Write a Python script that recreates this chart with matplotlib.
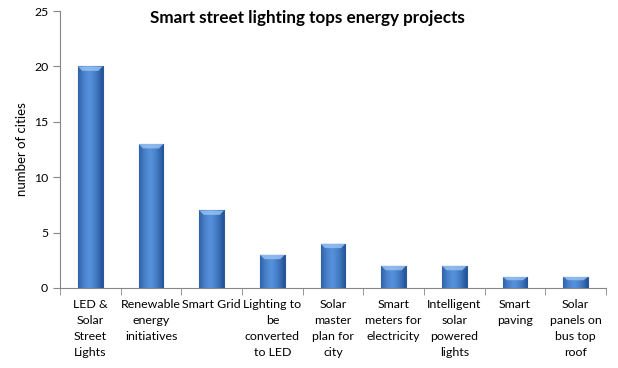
import matplotlib.pyplot as plt
import numpy as np
from matplotlib.colors import LinearSegmentedColormap

categories = ["LED &\nSolar\nStreet\nLights", "Renewable\nenergy\ninitiatives", "Smart Grid",
              "Lighting to\nbe\nconverted\nto LED", "Solar\nmaster\nplan for\ncity",
              "Smart\nmeters for\nelectricity", "Intelligent\nsolar\npowered\nlights",
              "Smart\npaving", "Solar\npanels on\nbus top\nroof"]
cities = [20, 13, 7, 3, 4, 2, 2, 1, 1]

plt.rcParams['font.family'] = ['Lato', 'DejaVu Sans']

fig = plt.figure(figsize=(6.18, 3.68), dpi=100)
ax = fig.add_axes([0.0971, 0.2174, 0.8835, 0.7527])

x = np.arange(len(cities))
bars = ax.bar(x, cities, width=0.41, color='#3b78c8', edgecolor='#2a5a9a', linewidth=0.8, zorder=2)

# horizontal shading inside each bar
grad = np.linspace(0, 1, 64)
shade = 1 - 0.55 * (2 * np.abs(grad - 0.45)) ** 1.5
cmap = LinearSegmentedColormap.from_list('b', ['#24549a', '#5590da'])
for b in bars:
    x0, w, h = b.get_x(), b.get_width(), b.get_height()
    im = ax.imshow(shade[None, :], cmap=cmap, vmin=0.4, vmax=1, aspect='auto',
                   extent=[x0, x0 + w, 0, h], zorder=3)
    im.set_clip_path(b)
    # light bevel at the top
    cap = min(0.4, h * 0.3)
    ax.fill([x0, x0 + w, x0 + w * 0.82, x0 + w * 0.18], [h, h, h - cap, h - cap],
            color='#9cc4f4', alpha=0.8, zorder=4, lw=0)

ax.set_xlim(-0.5, len(cities) - 0.5)
ax.set_ylim(0, 25)
ax.set_yticks([0, 5, 10, 15, 20, 25])
ax.set_xticks(x)
ax.set_xticklabels(categories, fontsize=8.9, linespacing=1.55, va='top')
ax.set_xticks(np.arange(-0.5, len(cities)), minor=True)
ax.tick_params(axis='x', which='major', length=0, pad=8)
ax.tick_params(axis='x', which='minor', length=5, color='#868686')
ax.tick_params(axis='y', length=5, color='#868686', labelsize=8.8)

for s in ['top', 'right']:
    ax.spines[s].set_visible(False)
for s in ['left', 'bottom']:
    ax.spines[s].set_color('#868686')

ax.set_ylabel('number of cities', fontsize=9.5)
fig.text(0.497, 0.951, 'Smart street lighting tops energy projects', ha='center', va='center',
         fontsize=12.3, fontweight='bold')

fig.savefig('out.png', dpi=100)
